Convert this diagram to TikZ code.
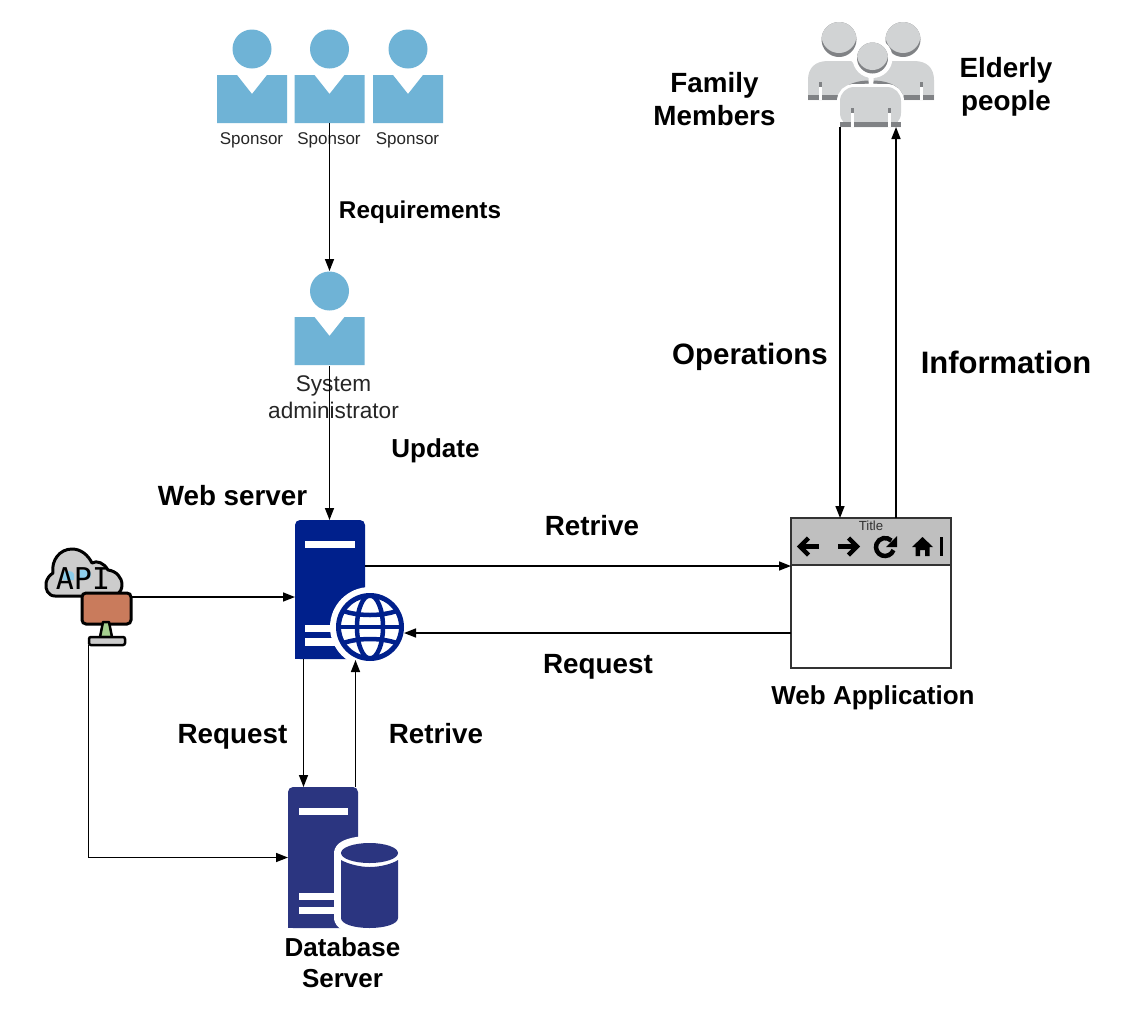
\documentclass[tikz,border=0pt]{standalone}
\usepackage{fontspec}
\setmainfont{Liberation Sans}
\newfontfamily\apifont{DejaVu Sans Mono}
\usetikzlibrary{arrows.meta}
\definecolor{personColor}{RGB}{111,179,214}
\definecolor{webColor}{RGB}{0,32,140}
\definecolor{dbColor}{RGB}{43,53,128}
\definecolor{peopleColor}{RGB}{209,211,212}
\definecolor{peopleDark}{RGB}{128,130,133}
\definecolor{barColor}{RGB}{191,191,191}
\definecolor{screenColor}{RGB}{201,123,92}
\definecolor{standColor}{RGB}{165,208,143}
\definecolor{apiBlue}{RGB}{140,205,235}
\tikzset{
  conn/.style={draw=black,line width=1.5pt,-{Triangle[length=12pt,width=9pt]}},
  box/.style={inner sep=0pt,outer sep=0pt},
  small/.style={inner sep=0pt,outer sep=0pt,text=black!85,font=\fontsize{17}{20}\selectfont},
  big/.style={inner sep=0pt,outer sep=0pt,text=black,align=center,font=\fontsize{27.8}{33}\selectfont\bfseries},
  icon/.style={line width=4.5pt,line join=miter},
  pics/person/.style={code={
    \path[fill=personColor] (0,0) circle (19.5);
    \path[fill=personColor] (-35,26) -- (-15,26) -- (0,45) -- (15,26) -- (35,26) -- (35,74) -- (-35,74) -- cycle;
  }}
}
\begin{document}
\begin{tikzpicture}[x=1pt,y=-1pt]
\path[use as bounding box,fill=white] (0,0) rectangle (1144,1034);

% sponsors and administrator
\pic at (252,49) {person};
\pic at (329.5,49) {person};
\pic at (408,49) {person};
\pic at (329.5,291) {person};
\node[box,minimum width=70pt,minimum height=94pt] (sponsorb) at (329.5,76) {};
\node[box,minimum width=70pt,minimum height=95pt] (admin) at (329.5,318.5) {};
\node[small] (sponsorlabela) at (251.5,140.5) {Sponsor};
\node[small] (sponsorlabelb) at (329,140.5) {Sponsor};
\node[small] (sponsorlabelc) at (407.5,140.5) {Sponsor};
\node[box,align=center,text=black!85,font=\fontsize{22.6}{27}\selectfont] (adminlabel) at (333.5,397.5) {System\\administrator};

% web server
\node[box,minimum width=70pt,minimum height=139pt] (web) at (330,589.5) {};
\path[fill=webColor,rounded corners=5pt] (295,659) -- (295,520) -- (365,520) -- (365,659) -- cycle;
\path[fill=webColor] (295,650) rectangle (310,659);
\path[fill=white] (305,541) rectangle (355,548);
\path[fill=white] (305,625) rectangle (345,632);
\path[fill=white] (305,638) rectangle (345,646);
\node[box,circle,minimum size=68pt] (globe) at (370,627) {};
\path[fill=white] (370,627) circle (40);
\begin{scope}[shift={(370,627)}]
\path[draw=webColor,line width=5pt,fill=white] (0,0) circle (31.5);
\path[clip] (0,0) circle (31.5);
\path[draw=webColor,line width=4.5pt] (0,0) ellipse (13 and 31.5);
\path[draw=webColor,line width=4.5pt] (-32,0) -- (32,0);
\path[draw=webColor,line width=4.5pt] (-32,-18) .. controls (-14,-10) and (14,-10) .. (32,-18);
\path[draw=webColor,line width=4.5pt] (-32,18) .. controls (-14,10) and (14,10) .. (32,18);
\end{scope}

% database server
\node[box,minimum width=70pt,minimum height=141pt] (db) at (323,857.5) {};
\path[fill=dbColor,rounded corners=5pt] (288,928) -- (288,787) -- (358,787) -- (358,928) -- cycle;
\path[fill=dbColor] (288,918) rectangle (303,928);
\path[fill=white] (299,808) rectangle (348,815);
\path[fill=white] (299,893) rectangle (340,900);
\path[fill=white] (299,907) rectangle (340,914);
\path[draw=white,fill=white,line width=14pt,line join=round] (341,853) -- (341,918) .. controls (341,924) and (354,928) .. (369.5,928) .. controls (385,928) and (398,924) .. (398,918) -- (398,853) .. controls (398,847) and (385,843) .. (369.5,843) .. controls (354,843) and (341,847) .. (341,853) -- cycle;
\path[fill=dbColor] (369.5,853) ellipse (28.5 and 10);
\path[fill=dbColor] (341,860) .. controls (348,864) and (360,867) .. (369.5,867) .. controls (380,867) and (392,864) .. (398,860) -- (398,918) .. controls (398,924) and (385,928) .. (369.5,928) .. controls (354,928) and (341,924) .. (341,918) -- cycle;

% api
\node[box,minimum width=85pt,minimum height=96pt] (api) at (88.5,597) {};
\path[draw=black,line width=3pt,fill=black!20,line join=round] (83,596) -- (55,596) .. controls (48,596) and (45,589) .. (46,583) .. controls (47,578) and (50,575) .. (53,573) .. controls (51,560) and (60,549) .. (72,549) .. controls (81,549) and (88,555) .. (92,563) .. controls (97,560) and (104,563) .. (108,570) .. controls (116,571) and (122,577) .. (122,585) .. controls (122,589) and (120,592) .. (118,594) -- cycle;
\path[fill=apiBlue] (63,580) -- (63,574) .. controls (64,570) and (73,570) .. (74,574) -- (74,580) -- cycle;
\path[fill=apiBlue] (80,570) -- (88,570) .. controls (92,570) and (92,579) .. (88,579) -- (80,579) -- cycle;
\node[box,text=black,font=\fontsize{30}{32}\selectfont\apifont] (apilabel) at (83,579) {API};
\path[draw=black,line width=3pt,fill=screenColor,rounded corners=4pt] (82,593) rectangle (131,624);
\path[draw=black,line width=2.5pt,fill=standColor,line join=round] (103,622) -- (109,622) -- (112,637) -- (100,637) -- cycle;
\path[draw=black,line width=2.5pt,fill=black!20,rounded corners=2pt] (89,637) rectangle (125,645);

% web application
\node[box,minimum width=160pt,minimum height=150pt] (app) at (871,593) {};
\path[draw=black!80,line width=1.8pt,fill=white] (791,518) rectangle (951,668);
\path[draw=black!80,line width=2pt,fill=barColor] (791,518) rectangle (951,565);
\node[box,text=black!80,font=\fontsize{13.2}{15}\selectfont] (apptitle) at (871,525.5) {Title};
\path[draw=black,icon] (819,546.5) -- (801,546.5);
\path[draw=black,icon] (808.5,538) -- (800,546.5) -- (808.5,555);
\path[draw=black,icon] (838,546.5) -- (856,546.5);
\path[draw=black,icon] (848.5,538) -- (857,546.5) -- (848.5,555);
\path[draw=black,icon] (885,547) ++(20:9) arc[start angle=20,end angle=315,radius=9];
\path[fill=black] (897,536) -- (897,547) -- (886,547) -- cycle;
\path[fill=black] (912,547) -- (922.5,537) -- (933,547) -- (929.5,547) -- (929.5,556) -- (925,556) -- (925,550) -- (920,550) -- (920,556) -- (915.5,556) -- (915.5,547) -- cycle;
\path[fill=black] (940,537) rectangle (942.5,556);

% family members and elderly people
\node[box,minimum width=125pt,minimum height=105pt] (people) at (870.5,74.5) {};
\foreach \xf/\xh in {1/839,-1/903} {
\begin{scope}[shift={(871,0)},xscale=\xf]
\path[fill=peopleColor] (-63,100) -- (-63,80) .. controls (-63,68) and (-56,61) .. (-43,61) -- (-20,61) -- (-2.5,78) -- (-2.5,84) .. controls (-20,84) and (-31,90) .. (-33,100) -- cycle;
\path[draw=peopleDark,line width=3pt] (-31.5,98) .. controls (-29,89) and (-20,82.5) .. (-2.5,82);
\path[fill=peopleDark] (-63,95) rectangle (-33,100);
\path[fill=peopleDark] (-52,82) rectangle (-49,87);
\path[fill=white] (-52,87) rectangle (-49,100);
\end{scope}
\path[fill=peopleDark] (\xh,39.5) circle (17.5);
\begin{scope}
\path[clip] (\xh,39.5) circle (17.5);
\path[fill=peopleColor] (\xh,35.5) circle (17.5);
\end{scope}
}
\path[fill=white] (872.5,58) circle (20);
\path[fill=peopleDark] (872.5,58) circle (15.5);
\begin{scope}
\path[clip] (872.5,58) circle (15.5);
\path[fill=peopleColor] (872.5,54.5) circle (15.5);
\end{scope}
\path[draw=white,line width=6pt,fill=peopleColor,rounded corners=14pt] (840,127) -- (840,87) -- (901,87) -- (901,127);
\path[fill=peopleColor,rounded corners=14pt] (840,127) -- (840,87) -- (901,87) -- (901,127) -- cycle;
\path[fill=white] (837,127.5) rectangle (904,131);
\path[fill=peopleDark] (840,122) rectangle (901,127);
\path[fill=peopleDark] (851,108) rectangle (853.5,113);
\path[fill=peopleDark] (888,108) rectangle (890.5,113);
\path[fill=white] (851,113) rectangle (853.5,127);
\path[fill=white] (888,113) rectangle (890.5,127);

% labels
\node[big,font=\fontsize{24.3}{29}\selectfont\bfseries] (reqlabel) at (420,212) {Requirements};
\node[big,font=\fontsize{26}{31}\selectfont\bfseries] (updlabel) at (435.5,451) {Update};
\node[big] (weblabel) at (232.5,495.5) {Web server};
\node[big] (retlabela) at (592,526) {Retrive};
\node[big] (reqlabelb) at (598,667) {Request};
\node[big,font=\fontsize{26}{31}\selectfont\bfseries] (applabel) at (873,698) {Web Application};
\node[big] (reqlabelc) at (232.5,737) {Request};
\node[big] (retlabelb) at (436,734) {Retrive};
\node[big,font=\fontsize{26}{31}\selectfont\bfseries] (dblabel) at (342.5,962.5) {Database\\Server};
\node[big,font=\fontsize{29.5}{34}\selectfont\bfseries] (oplabel) at (750,357) {Operations};
\node[big,font=\fontsize{31}{36}\selectfont\bfseries] (inflabel) at (1006,362.5) {Information};
\node[big] (famlabel) at (714.5,99) {Family\\Members};
\node[big] (eldlabel) at (1006,86.5) {Elderly\\people};

% connectors
\draw[conn] (sponsorb.south) -- (admin.north);
\draw[conn] (admin.south) -- ([xshift=-0.5pt]web.north);
\draw[conn] ([yshift=23.5pt]web.east) -- ([yshift=27pt]app.west);
\draw[conn] ([yshift=-40pt]app.west) -- ([yshift=-6pt]globe.east);
\draw[conn] (api.east) -- ([yshift=-7.5pt]web.west);
\draw[conn] (api.south) |- (db.west);
\draw[conn] ([xshift=-26.5pt]web.south) -- ([xshift=-19.5pt]db.north);
\draw[conn] ([xshift=32.5pt]db.north) -- ([xshift=25.5pt,yshift=-1pt]web.south);
\draw[conn] ([xshift=-30.5pt]people.south) -- ([xshift=-31pt]app.north);
\draw[conn] ([xshift=25pt]app.north) -- ([xshift=25.5pt]people.south);
\end{tikzpicture}
\end{document}
